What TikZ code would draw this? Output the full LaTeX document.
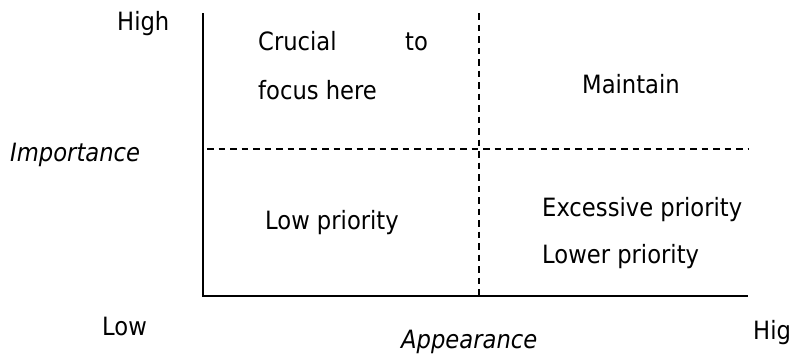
\documentclass[tikz,border=0pt]{standalone}
\usepackage{fontspec}
\setmainfont{DejaVu Sans Condensed}
\begin{document}
\begin{tikzpicture}[x=1pt,y=-1pt,
  lbl/.style={anchor=base west,inner sep=0pt,font=\fontsize{25.2}{30}\selectfont},
  axis/.style={line width=2pt},
  divider/.style={line width=1.6pt,dash pattern=on 6.5pt off 5pt}]
\clip (0,0) rectangle (792,356);
\fill[white] (0,0) rectangle (792,356);
% axes
\coordinate (top) at (203,13);
\coordinate (origin) at (203,296);
\coordinate (right) at (748,296);
\draw[axis] (top) -- (origin) -- (right);
% dividers
\coordinate (vtop) at (479,13);
\coordinate (vbot) at (479,296);
\coordinate (hl) at (207,149);
\coordinate (hr) at (748,149);
\draw[divider] (vtop) -- (vbot);
\draw[divider] (hl) -- (hr);
% labels
\node[lbl] (high) at (117,30) {High};
\node[lbl] (imp) at (10,161) {\itshape Importance};
\node[lbl] (low) at (102,335) {Low};
\node[lbl] (app) at (401,348) {\itshape Appearance};
\node[lbl] (hig) at (753,339) {Hig};
\node[lbl] (cru) at (258,50) {Crucial};
\node[lbl] (to) at (405,50) {to};
\node[lbl] (foc) at (258,99) {focus here};
\node[lbl] (main) at (582,93) {Maintain};
\node[lbl] (lowp) at (265,229) {Low priority};
\node[lbl] (exc) at (542,216) {Excessive priority};
\node[lbl] (lower) at (542,263) {Lower priority};
\end{tikzpicture}
\end{document}
